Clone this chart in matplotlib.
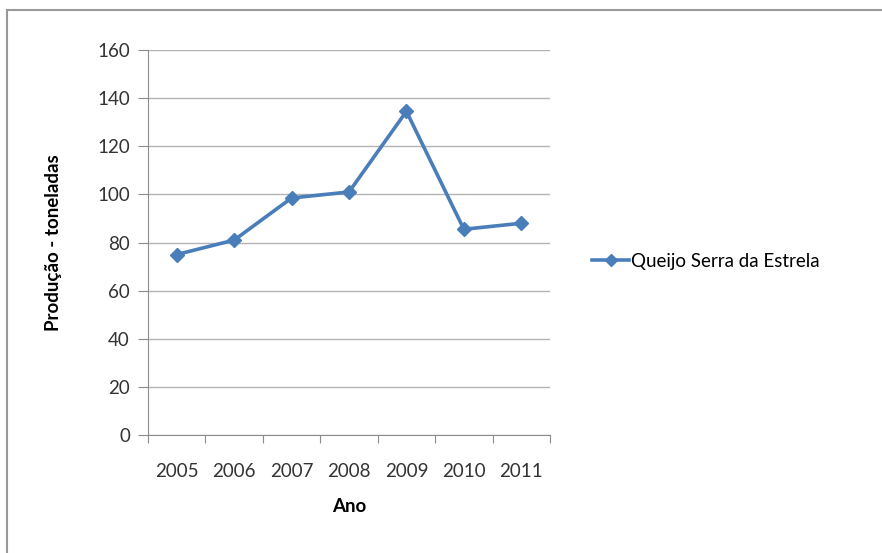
import matplotlib.pyplot as plt
import matplotlib.patches as patches

plt.rcParams['font.family'] = ['Lato', 'DejaVu Sans']

anos = ['2005', '2006', '2007', '2008', '2009', '2010', '2011']
producao = [75, 81, 98.5, 101, 134.5, 85.5, 88]
serie = 'Queijo Serra da Estrela'

W, H = 882, 553
fig = plt.figure(figsize=(W / 100, H / 100), dpi=100)
ax = fig.add_axes([148 / W, 1 - 435 / H, (550 - 148) / W, (435 - 50) / H])

azul = '#4a7ebb'
cinza = '#8c8c8c'
fs = 13.5
xs = list(range(len(anos)))
ax.plot(xs, producao, color=azul, lw=2.6, marker='D', ms=7.5, label=serie)

ax.set_xlim(-0.5, len(anos) - 0.5)
ax.set_ylim(0, 160)
ax.set_yticks(range(0, 161, 20))
ax.yaxis.grid(True, color='#b3b3b3', lw=1)
ax.set_axisbelow(True)

ax.set_xticks([i - 0.5 for i in range(len(anos) + 1)])
ax.set_xticklabels([])
ax.set_xticks(xs, minor=True)
ax.set_xticklabels(anos, minor=True)
ax.tick_params(axis='x', which='major', length=6, color=cinza, direction='out')
ax.tick_params(axis='x', which='minor', length=0, pad=20, labelsize=fs, labelcolor='#333333')
ax.tick_params(axis='y', length=7, color=cinza, pad=6, labelsize=fs, labelcolor='#333333')

for s in ['top', 'right']:
    ax.spines[s].set_visible(False)
for s in ['left', 'bottom']:
    ax.spines[s].set_color(cinza)

ax.set_xlabel('Ano', fontsize=fs, fontweight='bold', labelpad=13)
ax.set_ylabel('Produção - toneladas', fontsize=fs, fontweight='bold', labelpad=25)

ax.legend(loc='center left', bbox_to_anchor=(575 / W, 1 - 261 / H),
          bbox_transform=fig.transFigure, frameon=False, fontsize=fs,
          handlelength=2.0, handletextpad=0.1, markerscale=0.8)

fig.patches.append(patches.Rectangle((7 / W, -0.1), 1.2, 1.1 - 10 / H, transform=fig.transFigure,
                                     fill=False, edgecolor='#999999', lw=1.5))

fig.savefig('out.png', dpi=100)
